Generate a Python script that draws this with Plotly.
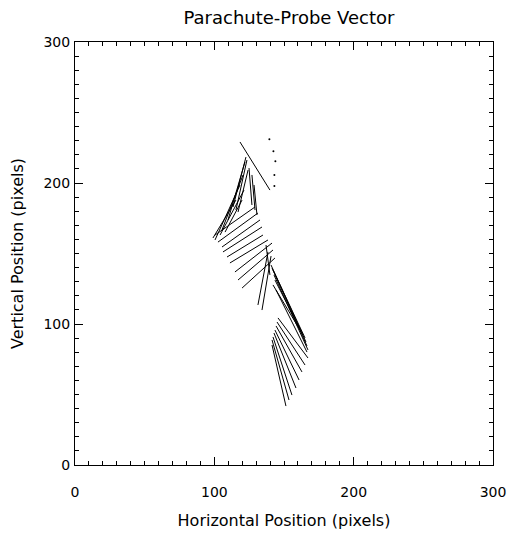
import plotly.graph_objects as go

# Vector segments: start (x0, y0) -> end (x1, y1), data units (pixels)
x0 = [118.4,
      122.7, 123.4, 122.0, 124.2, 120.6, 118.4, 121.3, 115.5, 119.9,
      124.9, 127.0, 128.5,
      100.5, 102.6, 105.5, 106.2, 109.1, 111.2, 114.8, 117.0, 119.9,
      131.3, 134.2, 137.1,
      140.7, 141.4, 142.1, 142.8, 143.5, 142.1, 144.3,
      145.7, 145.0, 144.3, 143.5, 142.8, 142.1, 141.4, 141.4]
y0 = [229.1,
      218.4, 216.3, 214.9, 209.2, 205.7, 198.6, 195.0, 187.9, 187.9,
      210.6, 205.7, 198.6,
      163.1, 158.1, 154.6, 151.1, 147.5, 143.3, 136.9, 131.2, 125.5,
      113.5, 109.9, 156.0,
      141.8, 139.7, 138.3, 134.8, 131.2, 127.7, 124.1,
      104.3, 101.4, 98.6, 95.7, 93.6, 90.8, 88.7, 85.1]
x1 = [139.9,
      113.4, 115.5, 109.8, 117.0, 105.5, 100.5, 104.1, 99.0, 107.7,
      127.0, 129.2, 130.6,
      129.2, 131.3, 132.8, 134.2, 134.9, 138.5, 141.4, 142.1, 143.5,
      138.5, 140.7, 139.9,
      165.8, 166.5, 165.1, 167.2, 163.6, 161.5, 166.5,
      167.2, 165.1, 162.9, 160.8, 158.6, 155.7, 153.6, 151.4]
y1 = [195.0,
      183.0, 180.8, 173.8, 179.4, 166.7, 159.6, 163.1, 161.0, 165.2,
      184.4, 180.8, 177.3,
      183.0, 178.7, 173.8, 168.8, 163.1, 159.6, 157.4, 152.5, 146.8,
      151.1, 148.2, 134.8,
      87.2, 84.4, 90.1, 81.6, 92.2, 95.7, 80.1,
      75.9, 70.9, 66.0, 60.3, 54.6, 49.6, 46.1, 41.8]

# Isolated points (zero-length vectors)
dot_x = [139.5, 142.4, 143.8, 143.1, 143.1]
dot_y = [231.0, 222.6, 215.5, 205.6, 197.8]

tick_vals = [0, 100, 200, 300]
tick_text = ["0", "100", "200", "300"]

seg_x, seg_y = [], []
for a, b, c, d in zip(x0, y0, x1, y1):
    seg_x += [a, c, None]
    seg_y += [b, d, None]

fig = go.Figure()
fig.add_trace(go.Scatter(x=seg_x, y=seg_y, mode="lines",
                         line=dict(color="black", width=1), showlegend=False,
                         hoverinfo="skip"))
fig.add_trace(go.Scatter(x=dot_x, y=dot_y, mode="markers",
                         marker=dict(color="black", size=2), showlegend=False))

font = dict(family="DejaVu Sans, Liberation Sans, sans-serif", color="black")

axis_common = dict(
    range=[0, 300], tickvals=tick_vals, ticktext=tick_text, automargin=False,
    ticks="inside", ticklen=8, tickcolor="black", tickwidth=1,
    minor=dict(ticks="inside", ticklen=4, dtick=10, tickcolor="black", tickwidth=1),
    showline=True, linecolor="black", linewidth=1, mirror="ticks",
    showgrid=False, zeroline=False, tickfont=dict(size=14, **font),
)

# page has an 8px body margin; figure is sized to fill the rest of the window
W, H = 515, 525
fig.update_layout(
    width=W, height=H,
    margin=dict(l=67, r=30, t=34, b=68),
    paper_bgcolor="white", plot_bgcolor="white",
    title=dict(text="Parachute-Probe Vector", x=281 / W, xanchor="center",
               y=1 - 10 / H, yanchor="middle", font=dict(size=18, **font)),
    xaxis=dict(**axis_common, ticklabelstandoff=14,
               title=dict(text="Horizontal Position (pixels)", font=dict(size=16, **font), standoff=16)),
    yaxis=dict(**axis_common, ticklabelstandoff=1,
               title=dict(text="Vertical Position (pixels)", font=dict(size=16, **font), standoff=15)),
)

fig.write_html("out.html")
